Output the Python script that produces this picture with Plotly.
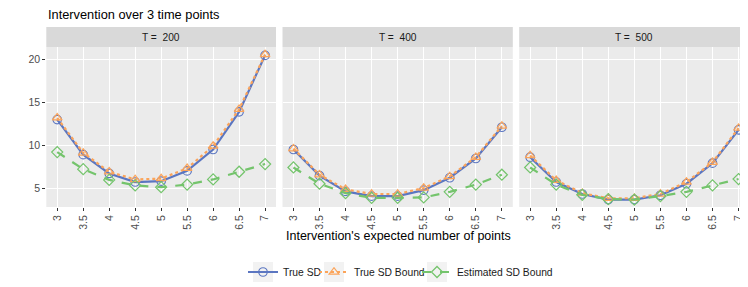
import plotly.graph_objects as go

W, H = 748, 287

x_vals = [3, 3.5, 4, 4.5, 5, 5.5, 6, 6.5, 7]
x_ticks = ["3", "3.5", "4", "4.5", "5", "5.5", "6", "6.5", "7"]
panels = ["T =\u00a0 200", "T =\u00a0 400", "T =\u00a0 500"]

true_sd_200 = [13.0, 8.9, 6.7, 5.7, 5.8, 7.0, 9.5, 13.9, 20.5]
bound_200 = [13.2, 9.1, 6.9, 6.0, 6.1, 7.3, 9.9, 14.2, 20.6]
est_200 = [9.2, 7.2, 5.95, 5.3, 5.1, 5.4, 6.0, 6.9, 7.8]

true_sd_400 = [9.5, 6.45, 4.6, 4.05, 4.05, 4.75, 6.2, 8.45, 12.1]
bound_400 = [9.6, 6.55, 4.85, 4.3, 4.3, 5.0, 6.35, 8.6, 12.25]
est_400 = [7.4, 5.5, 4.4, 3.85, 3.85, 3.9, 4.55, 5.4, 6.55]

true_sd_500 = [8.6, 5.7, 4.3, 3.65, 3.65, 4.15, 5.5, 7.9, 11.8]
bound_500 = [8.8, 5.9, 4.4, 3.8, 3.8, 4.3, 5.7, 8.0, 12.0]
est_500 = [7.4, 5.4, 4.2, 3.7, 3.65, 4.05, 4.55, 5.3, 6.05]

series_names = ["True SD", "True SD Bound", "Estimated SD Bound"]
colors = ["#5B76C1", "#FBA45A", "#74C46C"]
dashes = ["solid", "dot", "dash"]
symbols = ["circle-open", "triangle-up-open", "diamond-open"]

data = [
    [true_sd_200, bound_200, est_200],
    [true_sd_400, bound_400, est_400],
    [true_sd_500, bound_500, est_500],
]

def px_x(p):
    return p / W

def px_y(p):
    return 1 - p / H

x_domains = [[38.3, 268.0], [274.5, 504.8], [511.2, 741.5]]
y_top, y_bot = 39.0, 199.0
strip_top = 19.0

# legend key boxes (pixel left edges) and legend anchor positions
key_left = [245, 316, 419]
legend_keys = ["legend", "legend2", "legend3"]

fig = go.Figure()

for i, panel in enumerate(data):
    xa = "x" if i == 0 else f"x{i+1}"
    ya = "y" if i == 0 else f"y{i+1}"
    for j, vals in enumerate(panel):
        fig.add_trace(go.Scatter(
            x=x_vals, y=vals, xaxis=xa, yaxis=ya,
            mode="lines+markers",
            name=series_names[j],
            legendgroup=series_names[j],
            legend=legend_keys[j].replace("legend", "legend"),
            showlegend=(i == 0),
            line=dict(color=colors[j], width=2.2, dash=dashes[j]),
            marker=dict(symbol=symbols[j], size=8.5, color=colors[j],
                        line=dict(color=colors[j], width=1.2)),
        ))

layout = dict(
    width=W, height=H,
    margin=dict(l=0, r=0, t=0, b=0),
    paper_bgcolor="white",
    plot_bgcolor="#EBEBEB",
    font=dict(family="Liberation Sans, Arial, sans-serif", color="#1A1A1A"),
    showlegend=True,
)

for j, lk in enumerate(legend_keys):
    layout[lk] = dict(orientation="h", x=px_x(key_left[j] - 10), xanchor="left",
                      y=px_y(264), yanchor="middle",
                      font=dict(size=10.3, color="#1A1A1A"),
                      bgcolor="rgba(0,0,0,0)", itemwidth=30,
                      borderwidth=0, tracegroupgap=0)

for i in range(3):
    xk = "xaxis" if i == 0 else f"xaxis{i+1}"
    yk = "yaxis" if i == 0 else f"yaxis{i+1}"
    layout[xk] = dict(
        domain=[px_x(x_domains[i][0]), px_x(x_domains[i][1])],
        anchor="y" if i == 0 else f"y{i+1}",
        range=[2.79, 7.21],
        tickmode="array", tickvals=x_vals, ticktext=x_ticks,
        tickangle=-90, ticks="outside", ticklen=3, tickcolor="#333333",
        tickfont=dict(size=10.5, color="#4D4D4D"),
        showgrid=True, gridcolor="white", gridwidth=1.1,
        zeroline=False, showline=False, automargin=False,
    )
    layout[yk] = dict(
        domain=[px_y(y_bot), px_y(y_top)],
        anchor="x" if i == 0 else f"x{i+1}",
        range=[2.78, 21.48],
        tickmode="array", tickvals=[5, 10, 15, 20],
        ticktext=["5", "10", "15", "20"],
        showticklabels=(i == 0),
        ticks="outside" if i == 0 else "", ticklen=3, tickcolor="#333333",
        tickfont=dict(size=10.5, color="#4D4D4D"),
        showgrid=True, gridcolor="white", gridwidth=1.1,
        zeroline=False, showline=False, automargin=False,
    )

fig.update_layout(**layout)

shapes = []
annotations = []
for i, name in enumerate(panels):
    x0, x1 = x_domains[i]
    shapes.append(dict(type="rect", xref="paper", yref="paper",
                       x0=px_x(x0), x1=px_x(x1), y0=px_y(y_top), y1=px_y(strip_top),
                       fillcolor="#D9D9D9", line=dict(width=0), layer="below"))
    annotations.append(dict(text=name, xref="paper", yref="paper",
                            x=px_x((x0 + x1) / 2), y=px_y((y_top + strip_top) / 2),
                            showarrow=False, xanchor="center", yanchor="middle",
                            font=dict(size=10.2, color="#1A1A1A")))

for kl in key_left:
    shapes.append(dict(type="rect", xref="paper", yref="paper",
                       x0=px_x(kl), x1=px_x(kl + 20), y0=px_y(274), y1=px_y(254),
                       fillcolor="#F2F2F2", line=dict(width=0), layer="below"))

annotations.append(dict(text="Intervention over 3 time points", xref="paper", yref="paper",
                        x=px_x(38), y=px_y(6.5), xanchor="left", yanchor="middle",
                        showarrow=False, font=dict(size=12.8, color="#000000")))
annotations.append(dict(text="Intervention's expected number of points", xref="paper", yref="paper",
                        x=px_x(390.5), y=px_y(228), xanchor="center", yanchor="middle",
                        showarrow=False, font=dict(size=12.5, color="#000000")))

fig.update_layout(shapes=shapes, annotations=annotations)

fig.write_html("out.html")
